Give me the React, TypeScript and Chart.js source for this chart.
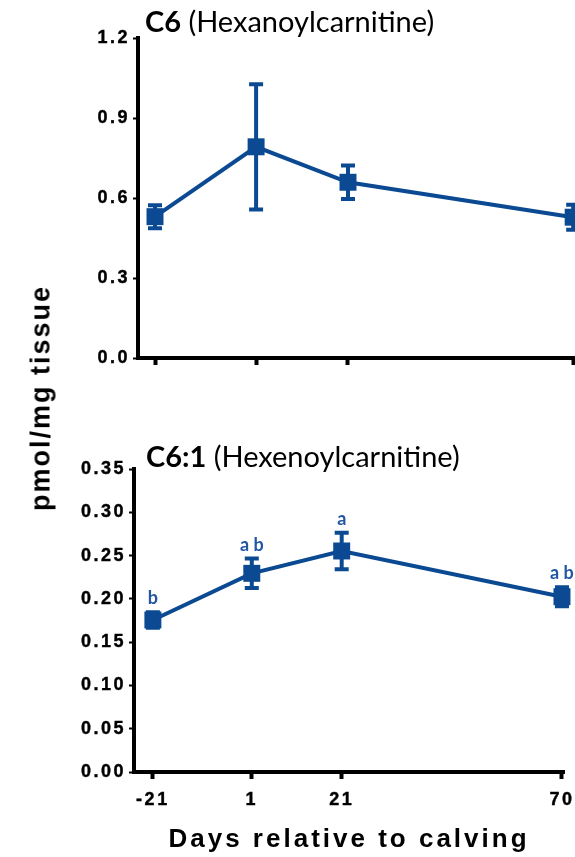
import React, { useEffect, useRef } from 'react';
import { Chart, registerables } from 'chart.js';
Chart.register(...registerables);

const days = [-21, 1, 21, 70];
const dayTickLabels = ['-21', '1', '21', '70'];
const c6Mean = [0.53, 0.792, 0.659, 0.528];
const c6Sem = [0.043, 0.235, 0.063, 0.047];
const c61Mean = [0.1756, 0.2295, 0.2553, 0.2025];
const c61Sem = [0.009, 0.017, 0.021, 0.011];
const c61Letters = ['b', 'a b', 'a', 'a b'];
const c6YTicks = [0, 0.3, 0.6, 0.9, 1.2];
const c61YTicks = [0, 0.05, 0.1, 0.15, 0.2, 0.25, 0.3, 0.35];

const BLUE = '#0b4a92';
const LETTER_BLUE = '#2357a4';
const TICK_FONT = { family: '"Liberation Sans"', weight: 'bold' as const, size: 18 };

type PanelCfg = {
  mean: number[];
  sem: number[];
  letters?: string[];
  titleBold: string;
  titleRest: string;
  titleX: number;
  titleY: number;
  yMax: number;
  yTicks: number[];
  decimals: number;
  yWidth: number;
  xHeight: number;
  xMin: number;
  xMax: number;
  showXLabels: boolean;
  padTop: number;
  padRight: number;
  xTitle?: { text: string; x: number; y: number };
};

function makePlugin(cfg: PanelCfg) {
  return {
    id: 'panelExtras',
    beforeDraw(chart: any) {
      const ctx = chart.ctx;
      ctx.letterSpacing = '2.5px';
    },
    beforeDatasetsDraw(chart: any) {
      const ctx = chart.ctx;
      const xs = chart.scales.x;
      const ys = chart.scales.y;
      ctx.save();
      ctx.strokeStyle = BLUE;
      ctx.lineWidth = 4;
      days.forEach((d, i) => {
        const px = xs.getPixelForValue(d);
        const top = ys.getPixelForValue(cfg.mean[i] + cfg.sem[i]);
        const bot = ys.getPixelForValue(cfg.mean[i] - cfg.sem[i]);
        ctx.beginPath();
        ctx.moveTo(px, top);
        ctx.lineTo(px, bot);
        ctx.moveTo(px - 7, top);
        ctx.lineTo(px + 7, top);
        ctx.moveTo(px - 7, bot);
        ctx.lineTo(px + 7, bot);
        ctx.stroke();
      });
      ctx.restore();
    },
    afterDraw(chart: any) {
      const ctx = chart.ctx;
      const xs = chart.scales.x;
      const ys = chart.scales.y;
      ctx.save();
      ctx.letterSpacing = '0px';
      ctx.textBaseline = 'alphabetic';
      ctx.textAlign = 'left';
      ctx.fillStyle = '#000';
      ctx.font = 'bold 29px Lato';
      ctx.fillText(cfg.titleBold, cfg.titleX, cfg.titleY);
      const w = ctx.measureText(cfg.titleBold).width;
      ctx.font = 'normal 29px Lato';
      ctx.fillText(cfg.titleRest, cfg.titleX + w, cfg.titleY);

      if (cfg.letters) {
        ctx.fillStyle = LETTER_BLUE;
        ctx.font = 'bold 18px Lato';
        ctx.textAlign = 'center';
        days.forEach((d, i) => {
          const px = xs.getPixelForValue(d);
          const py = ys.getPixelForValue(cfg.mean[i]);
          const errTop = ys.getPixelForValue(cfg.mean[i] + cfg.sem[i]) - 2;
          const base = Math.min(errTop, py - 8.5) - 6;
          ctx.fillText(cfg.letters![i], px, base);
        });
      }
      if (cfg.xTitle) {
        ctx.fillStyle = '#000';
        ctx.font = 'bold 26px "Liberation Sans"';
        ctx.letterSpacing = '3px';
        ctx.textAlign = 'center';
        ctx.fillText(cfg.xTitle.text, cfg.xTitle.x, cfg.xTitle.y);
      }
      ctx.restore();
    },
  };
}

function Panel({ cfg, width, height }: { cfg: PanelCfg; width: number; height: number }) {
  const ref = useRef<HTMLCanvasElement>(null);
  useEffect(() => {
    if (!ref.current) return;
    const chart = new Chart(ref.current, {
      type: 'line',
      data: {
        datasets: [
          {
            data: days.map((d, i) => ({ x: d, y: cfg.mean[i] })),
            borderColor: BLUE,
            borderWidth: 4,
            pointStyle: 'rect',
            pointRadius: 12,
            pointBackgroundColor: BLUE,
            pointBorderColor: BLUE,
            pointBorderWidth: 0,
            clip: false as any,
            tension: 0,
          },
        ],
      },
      options: {
        animation: false,
        responsive: false,
        maintainAspectRatio: false,
        layout: { autoPadding: false, padding: { top: cfg.padTop, right: cfg.padRight, left: 0, bottom: 0 } },
        plugins: { legend: { display: false }, tooltip: { enabled: false } },
        scales: {
          x: {
            type: 'linear',
            min: cfg.xMin,
            max: cfg.xMax,
            afterBuildTicks: (s: any) => {
              s.ticks = days.map((v) => ({ value: v }));
            },
            ticks: {
              display: cfg.showXLabels,
              autoSkip: false,
              maxRotation: 0,
              font: TICK_FONT,
              color: '#000',
              padding: 10,
              textStrokeColor: '#000',
              textStrokeWidth: 0.4,
              callback: (_v: any, i: number) => dayTickLabels[i],
            },
            grid: { drawOnChartArea: false, drawTicks: true, tickLength: 7, tickWidth: 4, tickColor: '#000' },
            border: { display: true, color: '#000', width: 4 },
            afterFit: (s: any) => {
              s.height = cfg.xHeight;
              s.paddingLeft = 0;
              s.paddingRight = 0;
            },
          },
          y: {
            type: 'linear',
            min: 0,
            max: cfg.yMax,
            afterBuildTicks: (s: any) => {
              s.ticks = cfg.yTicks.map((v) => ({ value: v }));
            },
            ticks: {
              font: TICK_FONT,
              color: '#000',
              padding: 3,
              textStrokeColor: '#000',
              textStrokeWidth: 0.4,
              callback: (v: any) => Number(v).toFixed(cfg.decimals),
            },
            grid: { drawOnChartArea: false, drawTicks: true, tickLength: 5, tickWidth: 2, tickColor: '#000' },
            border: { display: true, color: '#000', width: 4 },
            afterFit: (s: any) => {
              s.width = cfg.yWidth;
              s.paddingTop = 0;
              s.paddingBottom = 0;
            },
          },
        },
      },
      plugins: [makePlugin(cfg)],
    } as any);
    return () => chart.destroy();
  }, []);
  return <canvas ref={ref} width={width} height={height} style={{ display: 'block', width, height }} />;
}

const topCfg: PanelCfg = {
  mean: c6Mean,
  sem: c6Sem,
  titleBold: 'C6',
  titleRest: ' (Hexanoylcarnitine)',
  titleX: 145,
  titleY: 32,
  yMax: 1.2,
  yTicks: c6YTicks,
  decimals: 1,
  yWidth: 138,
  xHeight: 22,
  xMin: -24.7,
  xMax: 70.4,
  showXLabels: false,
  padTop: 38,
  padRight: 0,
};

const bottomCfg: PanelCfg = {
  mean: c61Mean,
  sem: c61Sem,
  letters: c61Letters,
  titleBold: 'C6:1',
  titleRest: ' (Hexenoylcarnitine)',
  titleX: 146,
  titleY: 27,
  yMax: 0.35,
  yTicks: c61YTicks,
  decimals: 2,
  yWidth: 134,
  xHeight: 85,
  xMin: -25.2,
  xMax: 70.45,
  showXLabels: true,
  padTop: 29,
  padRight: 11,
  xTitle: { text: 'Days relative to calving', x: 349, y: 407 },
};

export default function App() {
  return (
    <div style={{ position: 'absolute', left: 0, top: 0, width: 575, height: 857, background: '#fff', overflow: 'hidden' }}>
      <div style={{ position: 'absolute', left: 0, top: 0 }}>
        <Panel cfg={topCfg} width={575} height={380} />
      </div>
      <div style={{ position: 'absolute', left: 0, top: 440 }}>
        <Panel cfg={bottomCfg} width={575} height={417} />
      </div>
      <div
        style={{
          position: 'absolute',
          left: 41,
          top: 398,
          transform: 'translate(-50%, -50%) rotate(-90deg)',
          whiteSpace: 'nowrap',
          fontFamily: '"Liberation Sans", Arial, sans-serif',
          fontWeight: 'bold',
          fontSize: 27,
          letterSpacing: '2px',
          color: '#000',
          lineHeight: 1,
        }}
      >
        pmol/mg tissue
      </div>
    </div>
  );
}
